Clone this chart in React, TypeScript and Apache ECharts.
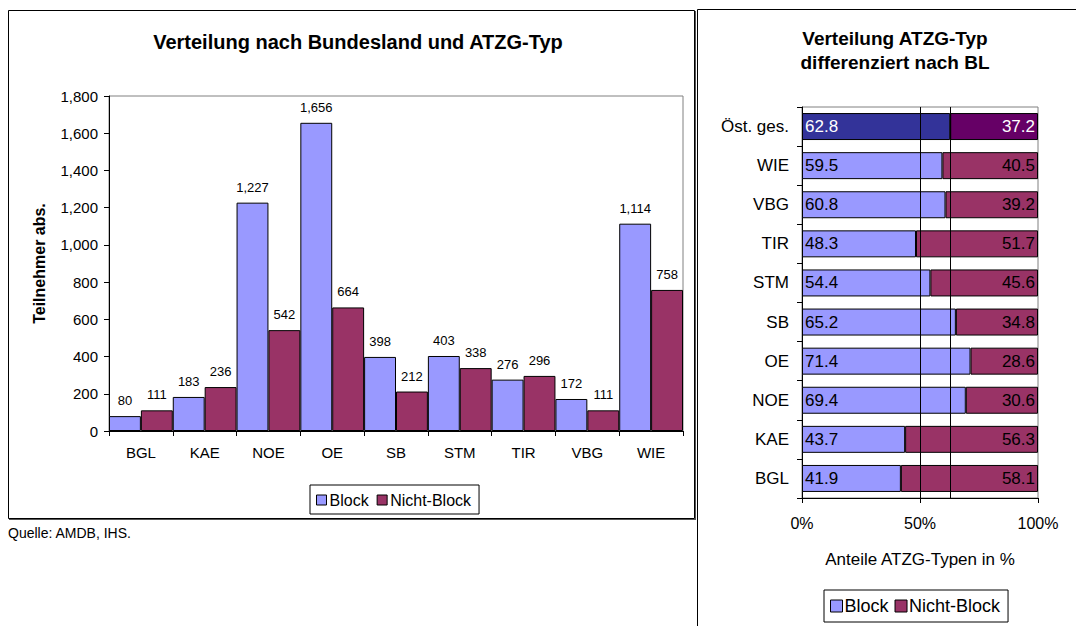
import React, { useEffect, useRef } from "react";
import * as echarts from "echarts";

const regions = ["BGL", "KAE", "NOE", "OE", "SB", "STM", "TIR", "VBG", "WIE"];
const blockAbs = [80, 183, 1227, 1656, 398, 403, 276, 172, 1114];
const nichtBlockAbs = [111, 236, 542, 664, 212, 338, 296, 111, 758];
const yTicksAbs = [0, 200, 400, 600, 800, 1000, 1200, 1400, 1600, 1800];

const shareCats = ["BGL", "KAE", "NOE", "OE", "SB", "STM", "TIR", "VBG", "WIE", "Öst. ges."];
const blockPct = [41.9, 43.7, 69.4, 71.4, 65.2, 54.4, 48.3, 60.8, 59.5, 62.8];
const nichtBlockPct = [58.1, 56.3, 30.6, 28.6, 34.8, 45.6, 51.7, 39.2, 40.5, 37.2];
const totalBlockPct = 62.8;

const FONT = "'Liberation Sans', Arial, Helvetica, sans-serif";
const C_BLOCK = "#9999FF";
const C_NB = "#993366";
const C_BLOCK_TOT = "#333399";
const C_NB_TOT = "#660066";

const fmt = (v: number) => v.toLocaleString("en-US");

export default function App() {
  const ref = useRef<HTMLDivElement>(null);
  useEffect(() => {
    document.body.style.margin = "0";
    const chart = echarts.init(ref.current!, undefined, { renderer: "svg" });
    const lastIdx = shareCats.length - 1;
    chart.setOption({
      animation: false,
      backgroundColor: "#ffffff",
      textStyle: { fontFamily: FONT },
      grid: [
        { left: 109, top: 96, width: 574, height: 335, show: true, borderColor: "#808080", borderWidth: 1, backgroundColor: "transparent" },
        { left: 802, top: 107, width: 236, height: 391, show: true, borderColor: "#808080", borderWidth: 1, backgroundColor: "transparent" },
      ],
      xAxis: [
        {
          type: "category",
          gridIndex: 0,
          data: regions,
          axisLine: { lineStyle: { color: "#000" } },
          axisTick: { show: true, length: 5, lineStyle: { color: "#000" } },
          axisLabel: { color: "#000", fontSize: 15, margin: 14, fontFamily: FONT },
        },
        {
          type: "value",
          gridIndex: 1,
          min: 0,
          max: 100,
          interval: 50,
          axisLine: { show: true, lineStyle: { color: "#000" } },
          axisTick: { show: true, length: 5, lineStyle: { color: "#000" } },
          axisLabel: { color: "#000", fontSize: 16, margin: 17, formatter: (v: number) => v + "%", fontFamily: FONT },
          splitLine: { show: false },
          name: "Anteile ATZG-Typen in %",
          nameLocation: "middle",
          nameGap: 53,
          nameTextStyle: { color: "#000", fontSize: 17, fontFamily: FONT },
        },
      ],
      yAxis: [
        {
          type: "value",
          gridIndex: 0,
          min: yTicksAbs[0],
          max: yTicksAbs[yTicksAbs.length - 1],
          interval: 200,
          axisLine: { show: true, lineStyle: { color: "#000" } },
          axisTick: { show: true, length: 5, lineStyle: { color: "#000" } },
          axisLabel: { color: "#000", fontSize: 15, margin: 11, formatter: (v: number) => fmt(v), fontFamily: FONT },
          splitLine: { show: false },
          name: "Teilnehmer abs.",
          nameLocation: "middle",
          nameGap: 62,
          nameRotate: 90,
          nameTextStyle: { color: "#000", fontSize: 16, fontWeight: "bold", fontFamily: FONT },
        },
        {
          type: "category",
          gridIndex: 1,
          data: shareCats,
          axisLine: { lineStyle: { color: "#000" } },
          axisTick: { show: true, length: 5, lineStyle: { color: "#000" } },
          axisLabel: { color: "#000", fontSize: 17, margin: 13, fontFamily: FONT },
        },
      ],
      legend: [
        {
          data: ["Block", "Nicht-Block"],
          left: 310,
          top: 485,
          orient: "horizontal",
          icon: "rect",
          itemWidth: 10,
          itemHeight: 10,
          itemGap: 8,
          padding: [7, 8, 6, 6],
          borderColor: "#000",
          borderWidth: 1,
          itemStyle: { borderColor: "#000", borderWidth: 1 },
          textStyle: { color: "#000", fontSize: 16, fontFamily: FONT, padding: [0, 0, 0, -2] },
        },
        {
          data: ["Block", "Nicht-Block"],
          left: 824,
          top: 590,
          orient: "horizontal",
          icon: "rect",
          itemWidth: 12,
          itemHeight: 12,
          itemGap: 6,
          padding: [7, 8, 7, 6],
          borderColor: "#000",
          borderWidth: 1,
          itemStyle: { borderColor: "#000", borderWidth: 1 },
          textStyle: { color: "#000", fontSize: 18, fontFamily: FONT, padding: [0, 0, 0, -3] },
        },
      ],
      series: [
        {
          name: "Block",
          type: "bar",
          xAxisIndex: 0,
          yAxisIndex: 0,
          data: blockAbs,
          barGap: "0%",
          barCategoryGap: "0%",
          itemStyle: { color: C_BLOCK, borderColor: "#000", borderWidth: 1 },
          label: { show: true, position: "top", distance: 9, color: "#000", fontSize: 13, fontFamily: FONT, formatter: (p: any) => fmt(p.value) },
        },
        {
          name: "Nicht-Block",
          type: "bar",
          xAxisIndex: 0,
          yAxisIndex: 0,
          data: nichtBlockAbs,
          barGap: "0%",
          barCategoryGap: "0%",
          itemStyle: { color: C_NB, borderColor: "#000", borderWidth: 1 },
          label: { show: true, position: "top", distance: 9, color: "#000", fontSize: 13, fontFamily: FONT, formatter: (p: any) => fmt(p.value) },
        },
        {
          name: "Block",
          type: "bar",
          xAxisIndex: 1,
          yAxisIndex: 1,
          stack: "pct",
          barCategoryGap: "31%",
          data: blockPct.map((v, i) =>
            i === lastIdx
              ? { value: v, itemStyle: { color: C_BLOCK_TOT }, label: { color: "#fff" } }
              : v
          ),
          itemStyle: { color: C_BLOCK, borderColor: "#000", borderWidth: 1 },
          label: { show: true, position: "insideLeft", distance: 3, color: "#000", fontSize: 17, fontFamily: FONT, formatter: (p: any) => p.value.toFixed(1) },
          markLine: {
            silent: true,
            symbol: "none",
            label: { show: false },
            lineStyle: { color: "#000", type: "solid", width: 1 },
            data: [{ xAxis: 50 }, { xAxis: totalBlockPct }],
          },
        },
        {
          name: "Nicht-Block",
          type: "bar",
          xAxisIndex: 1,
          yAxisIndex: 1,
          stack: "pct",
          barCategoryGap: "31%",
          data: nichtBlockPct.map((v, i) =>
            i === lastIdx
              ? { value: v, itemStyle: { color: C_NB_TOT }, label: { color: "#fff" } }
              : v
          ),
          itemStyle: { color: C_NB, borderColor: "#000", borderWidth: 1 },
          label: { show: true, position: "insideRight", distance: 3, color: "#000", fontSize: 17, fontFamily: FONT, formatter: (p: any) => p.value.toFixed(1) },
        },
      ],
      graphic: [
        { type: "rect", shape: { x: 8.5, y: 10.5, width: 686, height: 508 }, style: { fill: "none", stroke: "#000", lineWidth: 1 }, silent: true, z: -1 },
        { type: "line", shape: { x1: 695.5, y1: 11, x2: 695.5, y2: 520 }, style: { stroke: "#555", lineWidth: 1 }, silent: true, z: -1 },
        { type: "line", shape: { x1: 9, y1: 519.5, x2: 696, y2: 519.5 }, style: { stroke: "#555", lineWidth: 1 }, silent: true, z: -1 },
        { type: "rect", shape: { x: 697.5, y: 9.5, width: 420, height: 700 }, style: { fill: "none", stroke: "#000", lineWidth: 1 }, silent: true, z: -1 },
        {
          type: "text",
          x: 358,
          y: 42,
          style: { text: "Verteilung nach Bundesland und ATZG-Typ", fontSize: 20, fontWeight: "bold", fontFamily: FONT, fill: "#000", align: "center", verticalAlign: "middle" },
        },
        {
          type: "text",
          x: 895,
          y: 38,
          style: { text: "Verteilung ATZG-Typ", fontSize: 19, fontWeight: "bold", fontFamily: FONT, fill: "#000", align: "center", verticalAlign: "middle" },
        },
        {
          type: "text",
          x: 895,
          y: 62,
          style: { text: "differenziert nach BL", fontSize: 19, fontWeight: "bold", fontFamily: FONT, fill: "#000", align: "center", verticalAlign: "middle" },
        },
        {
          type: "text",
          x: 8,
          y: 533,
          style: { text: "Quelle: AMDB, IHS.", fontSize: 14, fontFamily: FONT, fill: "#000", align: "left", verticalAlign: "middle" },
        },
      ],
    });
    return () => chart.dispose();
  }, []);
  return <div ref={ref} style={{ width: 1076, height: 626 }} />;
}
